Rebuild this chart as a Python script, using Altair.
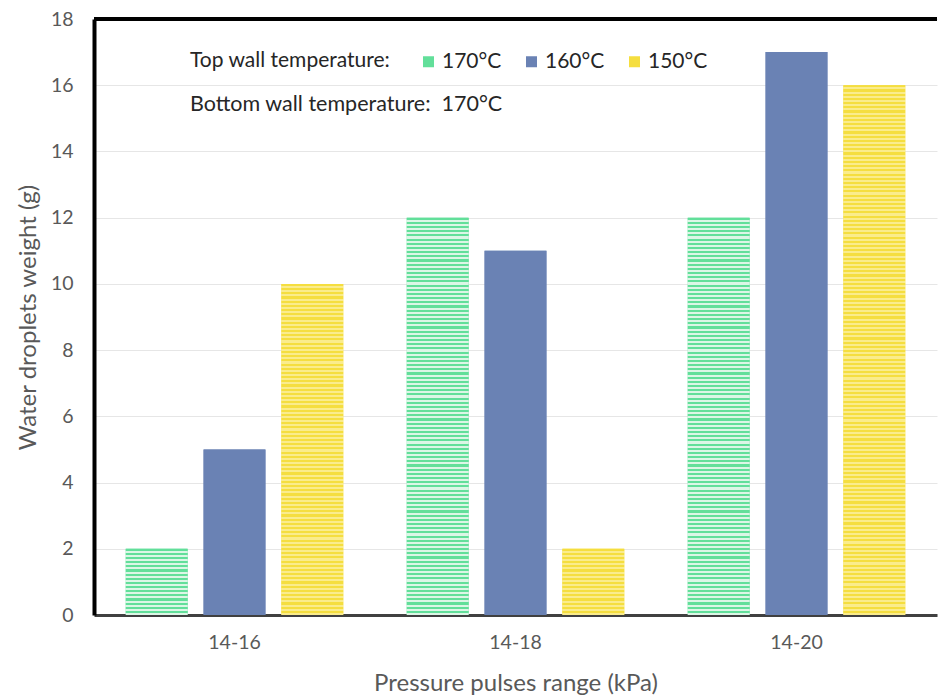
import altair as alt
import pandas as pd

categories = ["14-16", "14-18", "14-20"]
series = ["170°C", "160°C", "150°C"]
v170 = [2, 12, 12]
v160 = [5, 11, 17]
v150 = [10, 2, 16]
y_ticks = [0, 2, 4, 6, 8, 10, 12, 14, 16, 18]

rows = []
for i, c in enumerate(categories):
    for s, vals in zip(series, [v170, v160, v150]):
        rows.append({"range": c, "series": s, "value": vals[i]})
df = pd.DataFrame(rows)

W, H = 843, 596
YMAX = 18
px_per_unit = H / YMAX

GREEN = "#62df9a"
GREEN_L = "#dcf6e6"
BLUE = "#6a82b4"
YELLOW = "#f5de3f"
YELLOW_L = "#faec8c"
FONT = "Lato"
GRAY = "#595959"
DARK = "#262626"


def stripes(c1, c2, n):
    stops = []
    for k in range(n):
        a = k / n
        b = (k + 0.5) / n
        c = (k + 1) / n
        stops += [
            {"offset": a, "color": c1},
            {"offset": b, "color": c1},
            {"offset": b, "color": c2},
            {"offset": c, "color": c2},
        ]
    return {"gradient": "linear", "x1": 0, "y1": 0, "x2": 0, "y2": 1, "stops": stops}


conds = []
for v in sorted(set(v170)):
    n = max(1, round(v * px_per_unit / 4.2))
    conds.append({"test": f"datum.series == '170°C' && datum.value == {v}",
                  "value": stripes(GREEN, GREEN_L, n)})
for v in sorted(set(v150)):
    n = max(1, round(v * px_per_unit / 4.2))
    conds.append({"test": f"datum.series == '150°C' && datum.value == {v}",
                  "value": stripes(YELLOW, YELLOW_L, n)})

x_enc = alt.X("range:N", sort=categories,
              scale=alt.Scale(paddingInner=0, paddingOuter=0),
              axis=alt.Axis(title="Pressure pulses range (kPa)", labelAngle=0, ticks=False,
                            domainColor="#404040", domainWidth=3, labelPadding=18,
                            labelFontSize=19.5, labelColor=GRAY, labelFont=FONT,
                            titleFontSize=24, titleColor=GRAY, titleFont=FONT,
                            titleFontWeight="normal", titlePadding=20, grid=False))
xoff_enc = alt.XOffset("series:N", sort=series,
                       scale=alt.Scale(paddingInner=0.205, paddingOuter=0.408))
y_enc = alt.Y("value:Q", scale=alt.Scale(domain=[0, YMAX]),
              axis=alt.Axis(values=y_ticks, title="Water droplets weight (g)", ticks=False,
                            domainColor="black", domainWidth=4, labelPadding=21,
                            labelFontSize=19.5, labelColor=GRAY, labelFont=FONT,
                            titleFontSize=24, titleColor=GRAY, titleFont=FONT,
                            titleFontWeight="normal", titlePadding=10,
                            gridColor="#e6e6e6", gridWidth=1))

base_bars = alt.Chart(df).mark_bar().encode(
    x=x_enc, xOffset=xoff_enc, y=y_enc,
    color=alt.Color("series:N", sort=series,
                    scale=alt.Scale(domain=series, range=[GREEN, BLUE, YELLOW]),
                    legend=alt.Legend(title="Top wall temperature:", orient="none",
                                      legendX=96, legendY=32, direction="horizontal",
                                      titleOrient="left", titleFontSize=21,
                                      titleFont=FONT, titleFontWeight="normal",
                                      titleColor=DARK, titlePadding=27, titleLimit=500,
                                      labelFontSize=21, labelFont=FONT, labelColor=DARK,
                                      symbolType="square", symbolSize=121,
                                      symbolStrokeWidth=0, labelOffset=3,
                                      columnPadding=19)),
)

pattern_bars = alt.Chart(df).mark_bar().encode(
    x=alt.X("range:N", sort=categories), xOffset=alt.XOffset("series:N", sort=series),
    y=alt.Y("value:Q"),
    fill=alt.FillValue(value=BLUE, condition=conds),
)

top_rule = alt.Chart(pd.DataFrame({"a": [0]})).mark_rule(color="black", strokeWidth=4).encode(
    x=alt.value(0), x2=alt.value(W), y=alt.value(0)
)

note = alt.Chart(pd.DataFrame({"t": ["Bottom wall temperature:\u00a0\u00a0170°C"]})).mark_text(
    align="left", baseline="middle", fontSize=21.5, font=FONT, color=DARK
).encode(x=alt.value(96), y=alt.value(86), text="t:N")

chart = alt.layer(base_bars, pattern_bars, top_rule, note).properties(
    width=W, height=H,
    padding={"left": 8, "top": 1, "right": 0, "bottom": 0},
).configure_view(stroke=None)

chart.save("out.html", embed_options={"renderer": "svg", "actions": False})
